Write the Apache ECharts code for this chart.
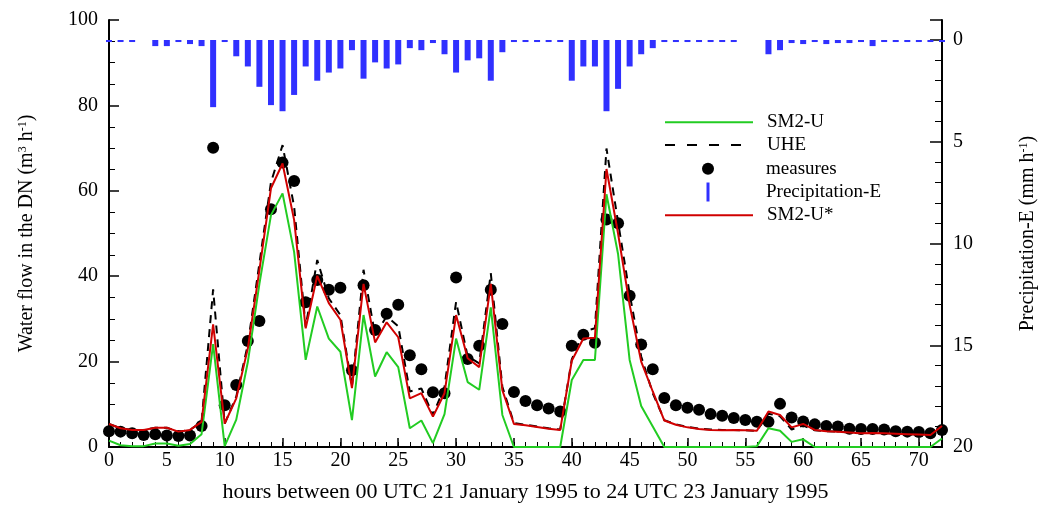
<!DOCTYPE html>
<html><head><meta charset="utf-8">
<script src="https://cdn.jsdelivr.net/npm/echarts@6/dist/echarts.min.js"></script>
<style>html,body{margin:0;padding:0;background:#fff}#c{width:1039px;height:506px}</style>
</head><body><div id="c"></div>
<script>
const hours = [0,1,2,3,4,5,6,7,8,9,10,11,12,13,14,15,16,17,18,19,20,21,22,23,24,25,26,27,28,29,30,31,32,33,34,35,36,37,38,39,40,41,42,43,44,45,46,47,48,49,50,51,52,53,54,55,56,57,58,59,60,61,62,63,64,65,66,67,68,69,70,71,72];

const sm2u = [1.5,0.4,0.2,0.2,0.8,0.8,0.3,0.7,3.0,24.1,
 0.2,6.4,19.9,38.2,54.3,59.4,45.7,20.4,32.9,25.4,
 22.3,6.3,30.9,16.5,22.2,18.7,4.4,6.2,0.9,7.7,
 25.4,15.2,13.4,32.7,7.5,0,0,0,0,0,
 15.7,20.4,20.4,59.2,45.2,20.4,9.6,4.8,0,0,
 0,0,0,0,0,0,0.2,4.4,3.8,1.2,
 1.8,0,0,0,0,0,0,0,0,0,
 0,0,2.0];

const uhe = [5.4,4.4,4.0,4.0,4.5,4.5,3.6,4.0,5.9,36.9,
 5.5,11.8,24.0,43.0,62.0,70.7,56.3,28.2,43.8,34.8,
 30.9,14.1,41.5,26.2,30.6,28.3,13.0,13.7,7.5,14.1,
 34.0,21.2,19.6,40.7,14.1,5.6,5.2,4.8,4.4,4.1,
 20.5,27.0,27.8,69.9,52.7,35.9,21.2,12.6,6.3,5.3,
 4.7,4.3,4.1,4.0,4.0,3.9,3.8,7.8,7.2,4.1,
 5.0,3.9,3.7,3.6,3.4,3.2,3.3,3.2,3.1,3.0,
 2.9,2.8,4.9];

const measures = [3.7,3.6,3.2,2.8,3.0,2.7,2.6,2.7,4.9,70.1,
 9.8,14.5,24.8,29.5,55.7,66.6,62.3,33.9,39.1,36.8,
 37.3,18.0,37.9,27.4,31.2,33.3,21.5,18.2,12.8,12.6,
 39.7,20.6,23.7,36.8,28.8,12.9,10.8,9.8,9.0,8.3,
 23.7,26.3,24.4,53.3,52.4,35.4,24.0,18.2,11.5,9.8,
 9.2,8.7,7.7,7.3,6.8,6.3,5.9,5.9,10.1,6.9,
 6.0,5.3,4.9,4.8,4.3,4.2,4.2,4.1,3.7,3.6,
 3.5,3.2,4.0];

const sm2uStar = [5.4,4.4,4.0,4.0,4.5,4.5,3.6,4.0,5.9,28.7,
 5.5,11.4,23.1,41.4,60.6,66.4,53.2,27.8,40.1,33.7,
 29.8,13.8,38.2,24.5,29.2,25.7,11.4,12.6,7.1,12.6,
 30.9,20.8,18.7,38.2,13.3,5.4,5.1,4.7,4.3,4.0,
 20.2,25.4,25.6,65.1,50.0,33.3,20.0,13.0,6.2,5.2,
 4.6,4.2,4.0,3.9,4.0,3.9,3.8,8.3,7.5,4.6,
 5.4,4.0,3.7,3.6,3.4,3.2,3.3,3.2,3.1,3.0,
 2.9,2.8,4.9];

const precip = [0.1,0.1,0.1,0,0.3,0.3,0.1,0.2,0.3,3.3,
 0.1,0.8,1.3,2.3,3.2,3.5,2.7,1.3,2.0,1.6,
 1.4,0.5,1.9,1.1,1.4,1.2,0.4,0.5,0.15,0.7,
 1.6,1.0,0.9,2.0,0.6,0.1,0.1,0.1,0.1,0.1,
 2.0,1.3,1.3,3.5,2.4,1.3,0.7,0.4,0.1,0.1,
 0.1,0.1,0.1,0.1,0.1,0,0,0.7,0.5,0.15,
 0.2,0.1,0.2,0.15,0.15,0.1,0.3,0.1,0.1,0.1,
 0.1,0.1,0.1];

const names = ['SM2-U', 'UHE', 'measures', 'Precipitation-E', 'SM2-U*'];
const F = 'Liberation Serif';
const pair = arr => hours.map((h, i) => [h, arr[i]]);

const chart = echarts.init(document.getElementById('c'));
const legendText = (pad) => ({fontFamily: F, fontSize: 19, color: '#000', padding: [0, 0, 0, pad]});
const legendBase = {
  orient: 'vertical', left: 664, itemWidth: 88, selectedMode: false, padding: 0, itemGap: 0,
  textStyle: legendText(9)
};
const nameStyle = (size) => ({
  fontFamily: F, fontSize: size, color: '#000',
  rich: {
    a: {fontFamily: F, fontSize: size, color: '#000'},
    s: {fontFamily: F, fontSize: 12, color: '#000', verticalAlign: 'top'}
  }
});

chart.setOption({
  animation: false,
  backgroundColor: '#fff',
  grid: [
    {left: 109, right: 97, top: 20, bottom: 59, containLabel: false, outerBoundsMode: 'none'},
    {left: 109, right: 97, top: 40, bottom: 59, containLabel: false, outerBoundsMode: 'none'}
  ],
  legend: [
    Object.assign({}, legendBase, {top: 112.7, itemHeight: 10, data: [names[0]], itemStyle: {opacity: 0}}),
    Object.assign({}, legendBase, {top: 135.5, itemHeight: 10, data: [names[1]], itemStyle: {opacity: 0}, lineStyle: {type: [10, 12]}}),
    Object.assign({}, legendBase, {left: 702, top: 159.3, itemHeight: 12, textStyle: legendText(9),
      itemStyle: {opacity: 1}, data: [{name: names[2], icon: 'circle'}]}),
    Object.assign({}, legendBase, {left: 706.5, top: 182.5, itemHeight: 19,
      data: [{name: names[3], icon: 'path://M0,0L3,0L3,19L0,19Z'}]}),
    Object.assign({}, legendBase, {top: 205.7, itemHeight: 10, data: [names[4]], itemStyle: {opacity: 0}})
  ],
  xAxis: [
    {
      type: 'value', gridIndex: 0, min: 0, max: 72, interval: 5,
      name: 'hours between 00 UTC 21 January 1995 to 24 UTC 23 January 1995',
      nameLocation: 'middle', nameGap: 34,
      nameTextStyle: {fontFamily: F, fontSize: 22, color: '#000'},
      axisLine: {show: true, onZero: false, lineStyle: {color: '#000', width: 2}},
      axisTick: {show: true, inside: true, length: 9, lineStyle: {color: '#000', width: 1.5}},
      axisLabel: {fontFamily: F, fontSize: 20, color: '#000', margin: 4, showMaxLabel: false},
      splitLine: {show: false}
    },
    {
      type: 'value', gridIndex: 1, min: 0, max: 72, show: false
    },
    {
      type: 'value', gridIndex: 0, min: 0, max: 72, interval: 1, position: 'bottom',
      axisLine: {show: false, onZero: false},
      axisTick: {show: true, inside: true, length: 5, lineStyle: {color: '#000', width: 1}},
      axisLabel: {show: false}, splitLine: {show: false}
    }
  ],
  yAxis: [
    {
      type: 'value', gridIndex: 0, min: 0, max: 100, interval: 20, position: 'left',
      name: '{a|Water flow in the DN (m}{s|3}{a| h}{s|-1}{a|)}',
      nameLocation: 'middle', nameRotate: 90, nameGap: 72, nameTextStyle: nameStyle(20),
      axisLine: {show: true, onZero: false, lineStyle: {color: '#000', width: 2}},
      axisTick: {show: true, inside: true, length: 10, lineStyle: {color: '#000', width: 1.5}},
      minorTick: {show: true, splitNumber: 4, length: 6, lineStyle: {color: '#000', width: 1}},
      axisLabel: {fontFamily: F, fontSize: 20, color: '#000', margin: 11},
      splitLine: {show: false}
    },
    {
      type: 'value', gridIndex: 0, min: 0, max: 100, interval: 100, position: 'right',
      name: '{a|Precipitation-E (mm h}{s|-1}{a|)}',
      nameLocation: 'middle', nameRotate: 90, nameGap: 76, nameTextStyle: nameStyle(20),
      axisLine: {show: true, onZero: false, lineStyle: {color: '#000', width: 2}},
      axisTick: {show: true, inside: true, length: 12, lineStyle: {color: '#000', width: 1.5}},
      axisLabel: {show: false}, splitLine: {show: false}
    },
    {
      type: 'value', gridIndex: 1, min: 0, max: 20, interval: 5, inverse: true, position: 'right',
      axisLine: {show: true, onZero: false, lineStyle: {color: '#000', width: 2}},
      axisTick: {show: true, inside: true, length: 12, lineStyle: {color: '#000', width: 1.5}},
      minorTick: {show: true, splitNumber: 5, length: 7, lineStyle: {color: '#000', width: 1}},
      axisLabel: {fontFamily: F, fontSize: 20, color: '#000', margin: 11},
      splitLine: {show: false}
    }
  ],
  series: [
    {
      name: names[3], type: 'bar', xAxisIndex: 1, yAxisIndex: 2, barWidth: 6,
      itemStyle: {color: '#3030ff'}, data: pair(precip)
    },
    {
      name: names[0], type: 'line', xAxisIndex: 0, yAxisIndex: 0, symbol: 'none',
      lineStyle: {color: '#22cc22', width: 2}, itemStyle: {color: '#22cc22'}, data: pair(sm2u)
    },
    {
      name: names[1], type: 'line', xAxisIndex: 0, yAxisIndex: 0, symbol: 'none',
      lineStyle: {color: '#000', width: 2, type: [8, 6]}, itemStyle: {color: '#000'}, data: pair(uhe)
    },
    {
      name: names[2], type: 'scatter', xAxisIndex: 0, yAxisIndex: 0, symbolSize: 12, clip: false,
      itemStyle: {color: '#000', opacity: 1}, data: pair(measures)
    },
    {
      name: names[4], type: 'line', xAxisIndex: 0, yAxisIndex: 0, symbol: 'none',
      lineStyle: {color: '#d00000', width: 2}, itemStyle: {color: '#d00000'}, data: pair(sm2uStar)
    }
  ]
});
</script></body></html>
